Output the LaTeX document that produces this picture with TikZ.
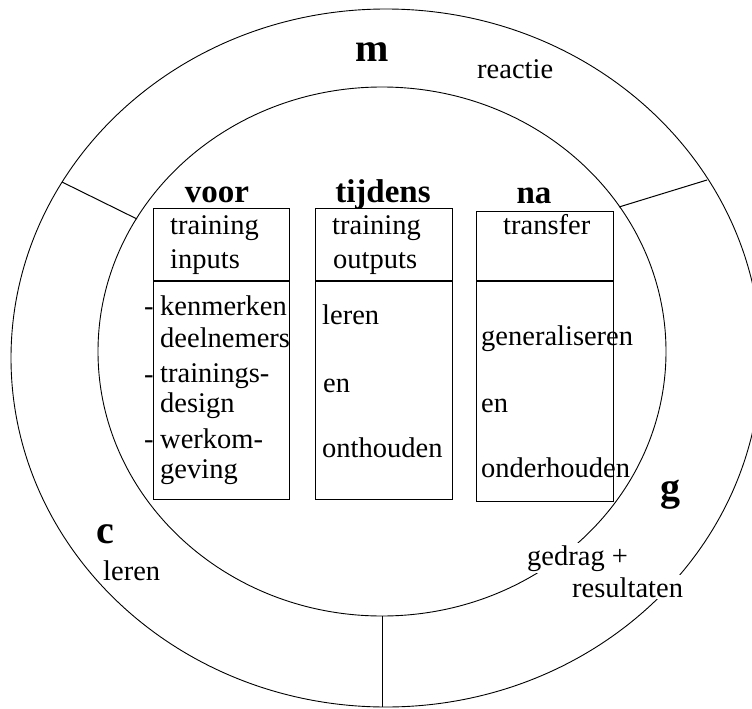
\documentclass[tikz,border=0pt]{standalone}
\usepackage{fontspec}
\setmainfont{Liberation Serif}
\usetikzlibrary{shapes.geometric}
\begin{document}
\begin{tikzpicture}[x=1pt,y=-1pt,
  txt/.style={inner sep=0pt, font=\fontsize{28.5}{33}\selectfont},
  hd/.style={inner sep=0pt, font=\fontsize{33}{36}\selectfont\bfseries},
  big/.style={inner sep=0pt, font=\fontsize{40}{42}\selectfont\bfseries},
  ring/.style={draw, line width=0.9pt},
  boxst/.style={draw, line width=1.3pt},
  divider/.style={line width=1pt}]
\useasboundingbox (0,0) rectangle (752,709);
\clip (0,0) rectangle (752,709);
% rings
\node[ellipse, ring, minimum width=750pt, minimum height=698pt, inner sep=0pt] (outer) at (386,358) {};
\node[ellipse, ring, minimum width=568pt, minimum height=529pt, inner sep=0pt] (inner) at (382,351.5) {};
% ring dividers
\coordinate (oUL) at (62,182);
\coordinate (iUL) at (137,219);
\coordinate (oUR) at (707,180);
\coordinate (iUR) at (619,207);
\draw[divider] (oUL) -- (iUL);
\draw[divider] (oUR) -- (iUR);
\draw[divider] (inner.south) -- (inner.south |- outer.south);
% boxes
\node[boxst, minimum width=136pt, minimum height=291pt, anchor=north west, inner sep=0pt] (b1) at (153,208) {};
\node[boxst, minimum width=137pt, minimum height=291pt, anchor=north west, inner sep=0pt] (b2) at (315,208) {};
\node[boxst, minimum width=137pt, minimum height=290pt, anchor=north west, inner sep=0pt] (b3) at (476,211) {};
\draw[boxst] (b1.west |- 0,281) -- (b1.east |- 0,281);
\draw[boxst] (b2.west |- 0,281) -- (b2.east |- 0,281);
\draw[boxst] (b3.west |- 0,281) -- (b3.east |- 0,281);
% headings
\node[hd, anchor=base] (hvoor) at (217,202) {voor};
\node[hd, anchor=base] (htijdens) at (383,202) {tijdens};
\node[hd, anchor=base] (hna) at (534,203) {na};
% box 1
\node[txt, anchor=base west] (t1a) at (170,234) {training};
\node[txt, anchor=base west] (t1b) at (170,268) {inputs};
\node[txt, anchor=base west] (d1) at (144,315) {-};
\node[txt, anchor=base west] (d2) at (144,383) {-};
\node[txt, anchor=base west] (d3) at (144,448) {-};
\node[txt, anchor=base west] (l1) at (160,315) {kenmerken};
\node[txt, anchor=base west] (l2) at (160,347) {deelnemers};
\node[txt, anchor=base west] (l3) at (160,382) {trainings-};
\node[txt, anchor=base west] (l4) at (160,412) {design};
\node[txt, anchor=base west] (l5) at (160,448) {werkom-};
\node[txt, anchor=base west] (l6) at (160,478) {geving};
% box 2
\node[txt, anchor=base west] (t2a) at (332,234) {training};
\node[txt, anchor=base west] (t2b) at (333,268) {outputs};
\node[txt, anchor=base west] (m1) at (322,324) {leren};
\node[txt, anchor=base west] (m2) at (323,392) {en};
\node[txt, anchor=base west] (m3) at (322,457) {onthouden};
% box 3
\node[txt, anchor=base west] (t3a) at (503,234) {transfer};
\node[txt, anchor=base west] (n1) at (481,345) {generaliseren};
\node[txt, anchor=base west] (n2) at (481,412) {en};
\node[txt, anchor=base west] (n3) at (481,477) {onderhouden};
% ring labels
\node[big, anchor=base] (lm) at (372,62) {m};
\node[txt, anchor=base west] (lreactie) at (477,78) {reactie};
\node[big, anchor=base] (lc) at (105,543) {c};
\node[txt, anchor=base west] (lleren) at (103,580) {leren};
\node[big, anchor=base] (lg) at (670,500) {g};
\node[txt, anchor=base west, fill=white, inner sep=2pt] (lgedrag) at (525,565) {gedrag +};
\node[txt, anchor=base west, fill=white, inner sep=2pt] (lres) at (570,597) {resultaten};
\end{tikzpicture}
\end{document}
